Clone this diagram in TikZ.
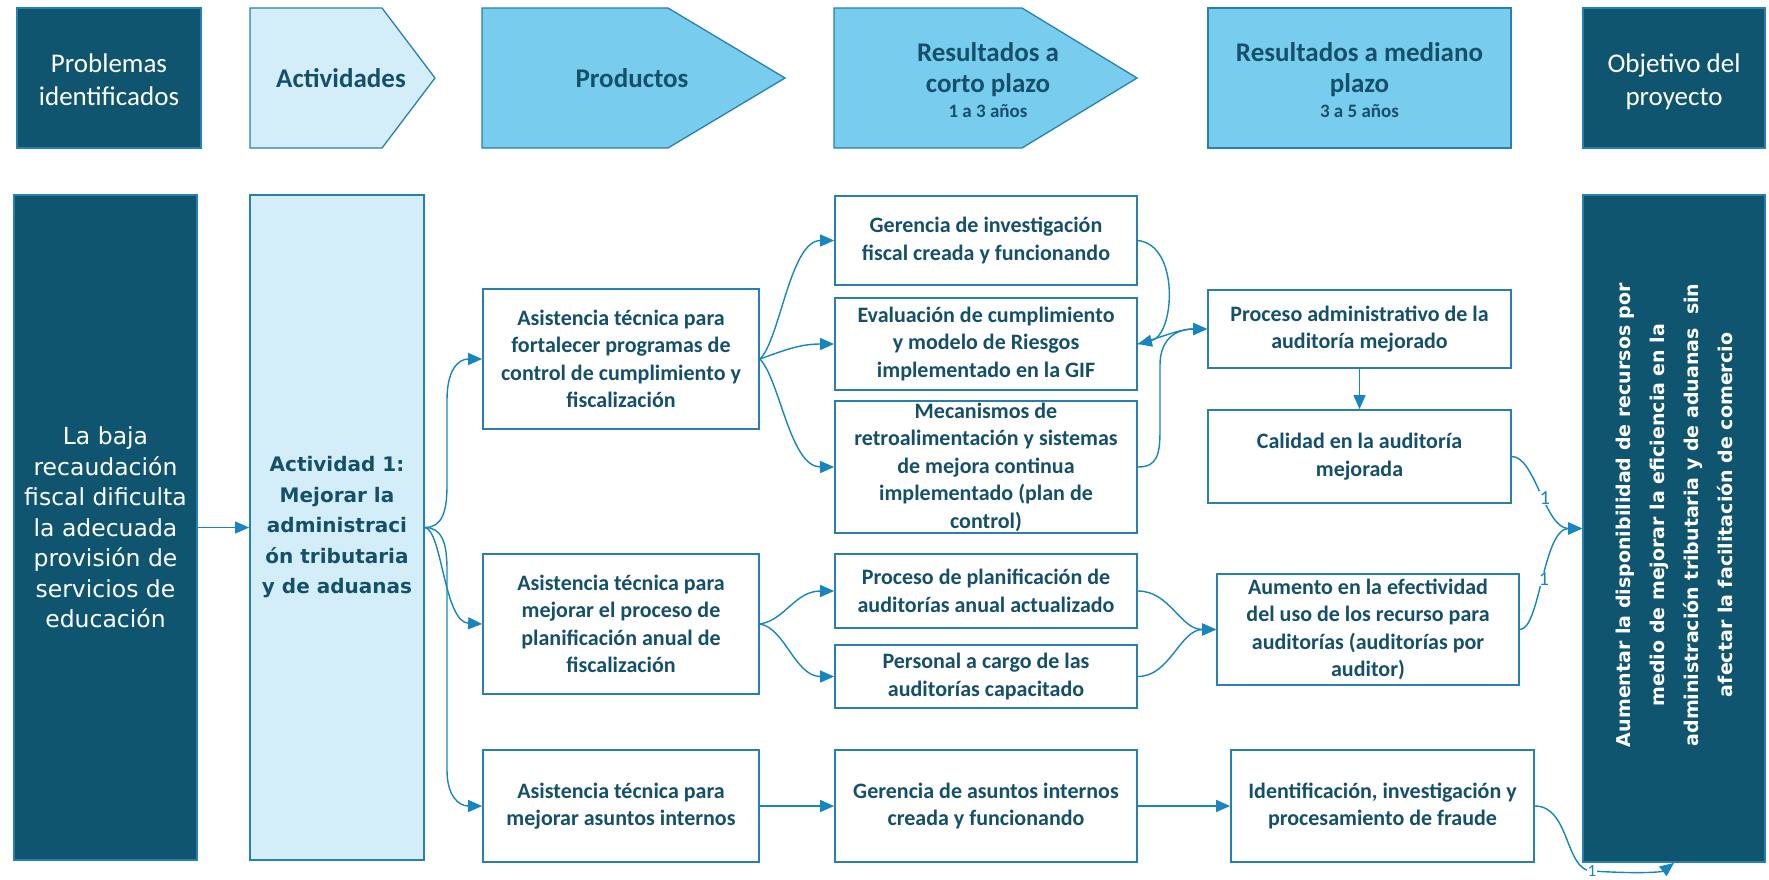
\documentclass[tikz,border=0pt]{standalone}
\usepackage{fontspec}
\setmainfont{Carlito}
\newfontfamily\verd{DejaVu Sans}
\usetikzlibrary{arrows.meta}
\definecolor{dk}{HTML}{0F5570}
\definecolor{lt}{HTML}{D3EEF9}
\definecolor{md}{HTML}{78CDEF}
\definecolor{bd}{HTML}{2780B0}
\definecolor{tx}{HTML}{15506B}
\definecolor{ar}{HTML}{1685C0}
\tikzset{
  hdr/.style={draw=bd, line width=1.3pt},
  htext/.style={align=center, font=\fontsize{27}{33}\selectfont},
  box/.style={draw=bd, line width=1.8pt, fill=white, align=center, text=tx,
    font=\bfseries\fontsize{22}{27.5}\selectfont, inner sep=0pt},
  conn/.style={draw=ar, line width=1.4pt, -{Triangle[length=14pt,width=12pt]}},
  lbl/.style={fill=white, text=ar, inner sep=0.5pt, font=\fontsize{20}{20}\selectfont}
}
\begin{document}
\begin{tikzpicture}[x=1pt,y=-1pt]
\useasboundingbox (0,0) rectangle (1769,879);
% header row
\draw[hdr, fill=dk] (17,8) rectangle (201,148);
\node[htext, text=white] (hprob) at (109,80) {Problemas\\identificados};
\draw[hdr, fill=lt] (250,8) -- (382,8) -- (435,78) -- (382,148) -- (250,148) -- cycle;
\node[htext, text=tx, font=\bfseries\fontsize{27}{33}\selectfont] (hact) at (341,78) {Actividades};
\draw[hdr, fill=md] (482,8) -- (668,8) -- (785,78) -- (668,148) -- (482,148) -- cycle;
\node[htext, text=tx, font=\bfseries\fontsize{27}{33}\selectfont] (hprod) at (632,78) {Productos};
\draw[hdr, fill=md] (834,8) -- (1022,8) -- (1137,78) -- (1022,148) -- (834,148) -- cycle;
\node[htext, text=tx, font=\bfseries\fontsize{27}{31}\selectfont] (hcorto) at (988,80) {Resultados a\\corto plazo\\[-6pt]{\fontsize{19}{24}\selectfont 1 a 3 años}};
\draw[hdr, fill=md] (1208,8) rectangle (1511,148);
\node[htext, text=tx, font=\bfseries\fontsize{27}{31}\selectfont] (hmed) at (1359.5,80) {Resultados a mediano\\plazo\\[-6pt]{\fontsize{19}{24}\selectfont 3 a 5 años}};
\draw[hdr, fill=dk] (1583,8) rectangle (1765,148);
\node[htext, text=white] (hobj) at (1674,82) {Objetivo del\\proyecto};

% lower boxes
\node[box, fill=dk, text=white, minimum width=183pt, minimum height=665pt,
  font=\verd\fontsize{23.5}{30.5}\selectfont] (labaja) at (105.5,527.5)
  {La baja\\recaudación\\fiscal dificulta\\la adecuada\\provisión de\\servicios de\\educación};
\node[box, fill=lt, minimum width=174pt, minimum height=665pt,
  font=\verd\bfseries\fontsize{20}{30.5}\selectfont] (act1) at (337,527.5)
  {Actividad 1:\\Mejorar la\\administraci\\ón tributaria\\y de aduanas};
\node[box, minimum width=276pt, minimum height=140pt] (a1) at (621,359)
  {Asistencia técnica para\\fortalecer programas de\\control de cumplimiento y\\fiscalización};
\node[box, minimum width=276pt, minimum height=140pt] (a2) at (621,624)
  {Asistencia técnica para\\mejorar el proceso de\\planificación anual de\\fiscalización};
\node[box, minimum width=276pt, minimum height=112pt] (a3) at (621,806)
  {Asistencia técnica para\\mejorar asuntos internos};
\node[box, minimum width=302pt, minimum height=89pt] (g1) at (986,240.5)
  {Gerencia de investigación\\fiscal creada y funcionando};
\node[box, minimum width=302pt, minimum height=92pt] (ev) at (986,344)
  {Evaluación de cumplimiento\\y modelo de Riesgos\\implementado en la GIF};
\node[box, minimum width=302pt, minimum height=132pt] (mec) at (986,467)
  {Mecanismos de\\retroalimentación y sistemas\\de mejora continua\\implementado (plan de\\control)};
\node[box, minimum width=302pt, minimum height=74pt] (pp) at (986,591)
  {Proceso de planificación de\\auditorías anual actualizado};
\node[box, minimum width=302pt, minimum height=63pt] (pe) at (986,676.5)
  {Personal a cargo de las\\auditorías capacitado};
\node[box, minimum width=302pt, minimum height=112pt] (ga) at (986,806)
  {Gerencia de asuntos internos\\creada y funcionando};
\node[box, minimum width=303pt, minimum height=78pt] (pa) at (1359.5,329)
  {Proceso administrativo de la\\auditoría mejorado};
\node[box, minimum width=303pt, minimum height=93pt] (ca) at (1359.5,456.5)
  {Calidad en la auditoría\\mejorada};
\node[box, minimum width=302pt, minimum height=111pt] (au) at (1368,629.5)
  {Aumento en la efectividad\\del uso de los recurso para\\auditorías (auditorías por\\auditor)};
\node[box, minimum width=303pt, minimum height=112pt] (id) at (1382.5,806)
  {Identificación, investigación y\\procesamiento de fraude};
\node[box, fill=dk, minimum width=182pt, minimum height=667pt] (obj) at (1674,528.5) {};
\node[rotate=90, text=white, align=center, inner sep=0pt,
  font=\verd\bfseries\fontsize{19}{34}\selectfont] (objt) at (1674,515)
  {Aumentar la disponibilidad de recursos por\\medio de mejorar la eficiencia en la\\administración tributaria y de aduanas\ \ sin\\afectar la facilitación de comercio};

% connectors
\draw[conn] (labaja.east) -- (act1.west);
\draw[conn] (act1.east) .. controls (442,527.5) and (447,512) .. (447,485) -- (447,400) .. controls (447,370) and (458,359) .. (a1.west);
\draw[conn] (act1.east) .. controls (442,530) and (444,622) .. (a2.west);
\draw[conn] (act1.east) .. controls (442,527.5) and (447,543) .. (447,570) -- (447,770) .. controls (447,795) and (458,806) .. (a3.west);

\draw[conn] (a1.east) .. controls (780,340) and (790,240.5) .. (g1.west);
\draw[conn] (a1.east) .. controls (785,350) and (800,344) .. (ev.west);
\draw[conn] (a1.east) .. controls (780,380) and (790,467) .. (mec.west);
\draw[conn] (a2.east) .. controls (785,620) and (795,591) .. (pp.west);
\draw[conn] (a2.east) .. controls (785,628) and (795,676.5) .. (pe.west);
\draw[conn] (a3.east) -- (ga.west);
\draw[conn] (ga.east) -- (id.west);

\draw[conn] (g1.east) .. controls (1180,245) and (1175,335) .. (ev.east);
\draw[conn] (ev.east) .. controls (1165,336) and (1180,329) .. (pa.west);
\draw[conn] (mec.east) .. controls (1157,467) and (1160,455) .. (1160,430) -- (1160,365) .. controls (1160,340) and (1175,329) .. (pa.west);
\draw[conn] (pa.south) -- (ca.north);
\draw[conn] (pp.east) .. controls (1170,591) and (1180,629.5) .. (au.west);
\draw[conn] (pe.east) .. controls (1170,676.5) and (1180,629.5) .. (au.west);

\draw[conn] (ca.east) .. controls (1535,456.5) and (1545,528.5) .. node[lbl, pos=0.55] {1} (obj.west);
\draw[conn] (au.east) .. controls (1540,629.5) and (1543,528.5) .. node[lbl, pos=0.5] {1} (obj.west);
\coordinate (bend) at (1592,871);
\draw[conn] (id.east) .. controls (1570,806) and (1565,871) .. (bend) .. controls (1640,874) and (1662,872) .. (obj.south);
\node[lbl, font=\fontsize{17}{17}\selectfont] (lb3) at (bend) {1};
\end{tikzpicture}
\end{document}
